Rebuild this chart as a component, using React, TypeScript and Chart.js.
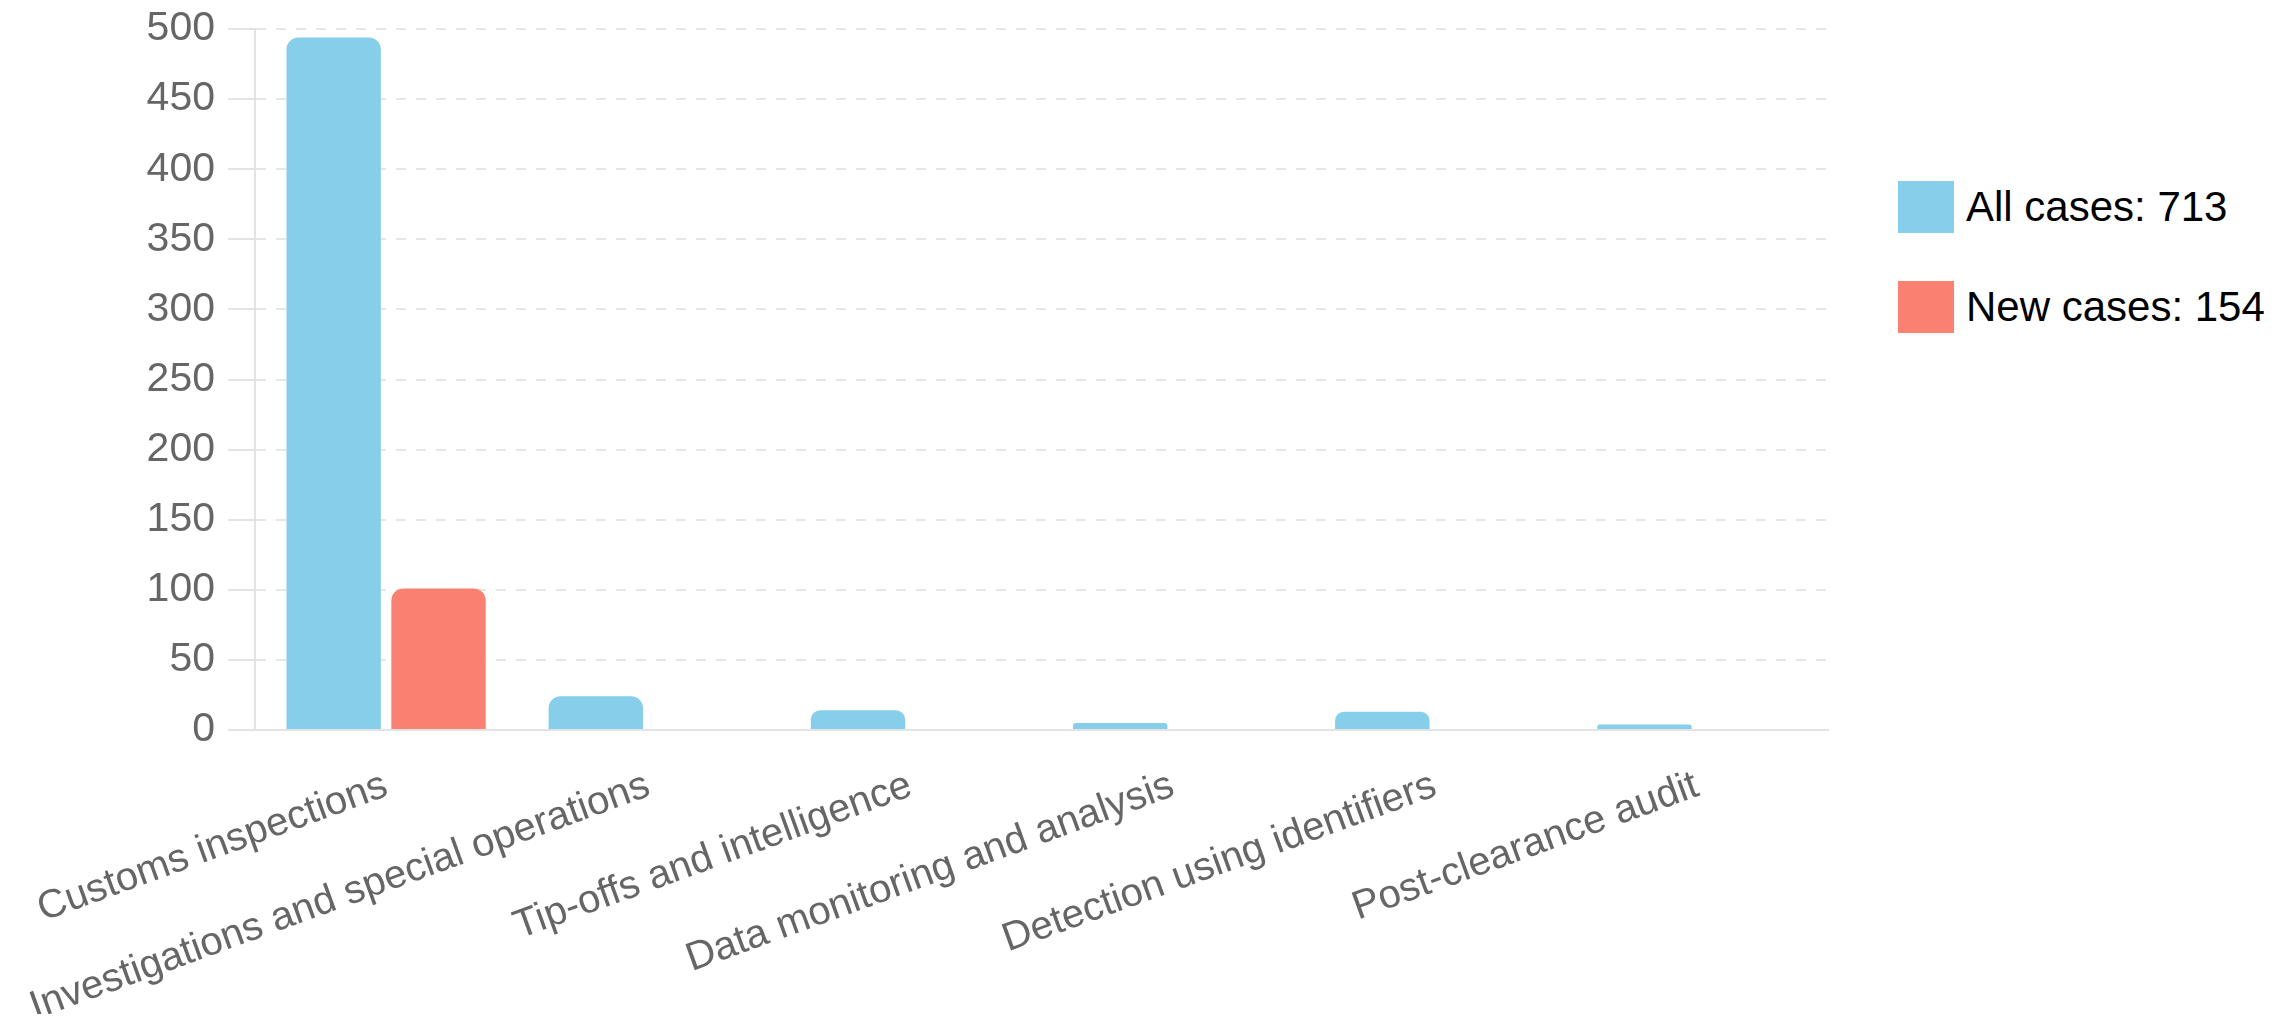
import React, { useEffect, useRef } from 'react';
import { Chart, registerables } from 'chart.js';

Chart.register(...registerables);

const categories = [
  'Customs inspections',
  'Investigations and special operations',
  'Tip-offs and intelligence',
  'Data monitoring and analysis',
  'Detection using identifiers',
  'Post-clearance audit',
];
const allCases = [494, 24, 14, 5, 13, 4];
const newCases = [101, 0, 0, 0, 0, 0];
const seriesLabels = ['All cases: 713', 'New cases: 154'];
const seriesColors = ['#87CEEB', '#FA8072'];
const yMax = 500;
const yStep = 50;

const FONT = '"Liberation Sans", Arial, Helvetica, sans-serif';

export default function App() {
  const canvasRef = useRef<HTMLCanvasElement | null>(null);

  useEffect(() => {
    if (!canvasRef.current) return;
    const chart = new Chart(canvasRef.current, {
      type: 'bar',
      data: {
        labels: categories,
        datasets: [
          {
            label: seriesLabels[0],
            data: allCases,
            backgroundColor: seriesColors[0],
            borderRadius: 12,
            borderSkipped: 'start',
          },
          {
            label: seriesLabels[1],
            data: newCases,
            backgroundColor: seriesColors[1],
            borderRadius: 12,
            borderSkipped: 'start',
          },
        ],
      },
      options: {
        animation: false,
        responsive: true,
        maintainAspectRatio: false,
        layout: { padding: { top: 21, right: 20, left: 0, bottom: 0 } },
        plugins: {
          legend: { display: false },
          tooltip: { enabled: false },
        },
        scales: {
          x: {
            grid: { display: false, drawTicks: false },
            border: { display: true, color: '#e3e3e3', width: 2 },
            ticks: {
              color: '#666',
              font: { family: FONT, size: 40 },
              minRotation: 20,
              maxRotation: 20,
              autoSkip: false,
              padding: 32,
            },
            afterFit: (scale: any) => {
              scale.height = 284;
              scale.paddingLeft = 0;
              scale.paddingRight = 0;
            },
          },
          y: {
            min: 0,
            max: yMax,
            ticks: {
              stepSize: yStep,
              color: '#666',
              font: { family: FONT, size: 41 },
              padding: 13,
            },
            grid: {
              color: '#e6e6e6',
              lineWidth: 2,
              drawTicks: true,
              tickLength: 27,
              tickColor: '#e3e3e3',
            },
            border: { display: true, color: '#e3e3e3', width: 2, dash: [10, 10] },
            afterFit: (scale: any) => {
              scale.width = 247;
              scale.paddingTop = 0;
              scale.paddingBottom = 0;
            },
          },
        },
      },
    });
    return () => chart.destroy();
  }, []);

  return (
    <div style={{ position: 'relative', width: 2278, height: 1006 }}>
      <div style={{ position: 'absolute', left: 0, top: 0, width: 1840, height: 1006 }}>
        <canvas ref={canvasRef} />
      </div>
      <div style={{ position: 'absolute', left: 1890, top: 173, fontFamily: FONT }}>
        {seriesLabels.map((label, i) => (
          <div
            key={label}
            style={{ display: 'flex', alignItems: 'center', height: 52, marginBottom: 48 }}
          >
            <div style={{ width: 56, height: 52, background: seriesColors[i], marginRight: 12 }} />
            <span style={{ fontSize: 42, color: '#000', lineHeight: '52px' }}>{label}</span>
          </div>
        ))}
      </div>
    </div>
  );
}
